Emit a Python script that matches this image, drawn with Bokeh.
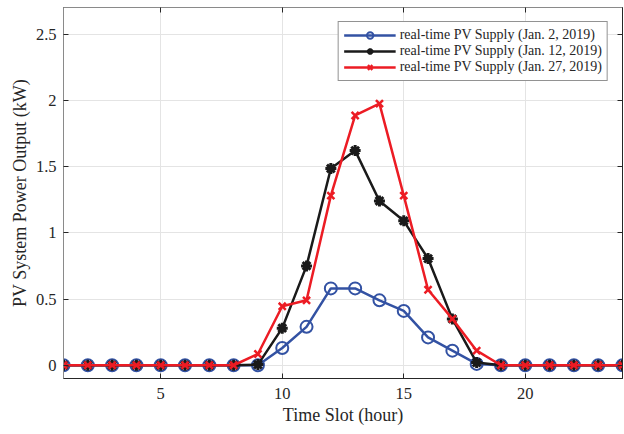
from bokeh.plotting import figure
from bokeh.models import Range1d, FixedTicker, CustomJSTickFormatter, LinearAxis
from bokeh.embed import file_html
from bokeh.resources import INLINE

hours = [1, 2, 3, 4, 5, 6, 7, 8, 9, 10, 11, 12, 13, 14, 15, 16, 17, 18, 19, 20, 21, 22, 23, 24]
jan2 = [0, 0, 0, 0, 0, 0, 0, 0, 0, 0.13, 0.29, 0.58, 0.58, 0.49, 0.41, 0.21, 0.11, 0.01, 0, 0, 0, 0, 0, 0]
jan12 = [0, 0, 0, 0, 0, 0, 0, 0, 0.005, 0.28, 0.75, 1.485, 1.62, 1.24, 1.09, 0.805, 0.35, 0.02, 0, 0, 0, 0, 0, 0]
jan27 = [0, 0, 0, 0, 0, 0, 0, 0, 0.085, 0.445, 0.49, 1.28, 1.885, 1.975, 1.28, 0.57, 0.35, 0.11, 0, 0, 0, 0, 0, 0]
x_ticks = [5, 10, 15, 20]
y_ticks = [0, 0.5, 1, 1.5, 2, 2.5]
labels = ["real-time PV Supply (Jan. 2, 2019)",
          "real-time PV Supply (Jan. 12, 2019)",
          "real-time PV Supply (Jan. 27, 2019)"]

FONT = "Liberation Serif"
AX = "#262626"
GRAYAX = "#8a8a8a"

p = figure(width=624, height=434, x_range=Range1d(1, 24), y_range=Range1d(-0.1, 2.7),
           output_backend="svg", toolbar_location=None,
           min_border_left=63, min_border_right=2, min_border_top=7, min_border_bottom=56)

p.outline_line_color = AX
p.outline_line_width = 1
p.background_fill_color = "white"
p.border_fill_color = "white"

for ax in (p.xaxis[0], p.yaxis[0]):
    ax.axis_line_color = AX
    ax.major_tick_line_color = AX
    ax.major_tick_in = 5
    ax.major_tick_out = 0
    ax.minor_tick_line_color = None
    ax.major_label_text_font = FONT
    ax.major_label_text_font_size = "16.5px"
    ax.major_label_text_color = AX
    ax.axis_label_text_font = FONT
    ax.axis_label_text_font_size = "18px"
    ax.axis_label_text_font_style = "normal"
    ax.axis_label_text_color = AX

p.yaxis.axis_line_color = GRAYAX
p.xaxis.ticker = FixedTicker(ticks=x_ticks)
p.yaxis.ticker = FixedTicker(ticks=y_ticks)
p.yaxis.formatter = CustomJSTickFormatter(code="return String(Number(tick.toFixed(2)));")
p.xaxis.axis_label = "Time Slot (hour)"
p.yaxis.axis_label = "PV System Power Output (kW)"
p.xaxis.major_label_standoff = 9
p.yaxis.major_label_standoff = 7
p.xaxis.axis_label_standoff = 3
p.yaxis.axis_label_standoff = 3

# box-style inward ticks on the top and right edges (no labels)
blank = CustomJSTickFormatter(code="return '';")
right_ax = LinearAxis(ticker=FixedTicker(ticks=y_ticks), formatter=blank,
                      major_tick_in=5, major_tick_out=0, minor_tick_line_color=None,
                      major_label_text_font_size="0px", major_label_standoff=0,
                      axis_line_color=AX, major_tick_line_color=AX)
top_ax = LinearAxis(ticker=FixedTicker(ticks=x_ticks), formatter=blank,
                    major_tick_in=5, major_tick_out=0, minor_tick_line_color=None,
                    major_label_text_font_size="0px", major_label_standoff=0,
                    axis_line_color=GRAYAX, major_tick_line_color=AX)
p.add_layout(right_ax, "right")
p.add_layout(top_ax, "above")

p.xgrid.grid_line_color = "#e4e4e4"
p.ygrid.grid_line_color = "#e4e4e4"

blue = "#3352a3"
black = "#1a1a1a"
red = "#ec1c24"

p.line(hours, jan2, line_color=blue, line_width=2.5, legend_label=labels[0])
p.scatter(hours, jan2, marker="circle", size=12, line_color=blue, fill_color=None,
          line_width=2, legend_label=labels[0])

p.line(hours, jan12, line_color=black, line_width=2.5, legend_label=labels[1])
p.scatter(hours, jan12, marker="asterisk", size=11, line_color=black,
          line_width=3, legend_label=labels[1])

p.line(hours, jan27, line_color=red, line_width=2.5, legend_label=labels[2])
p.scatter(hours, jan27, marker="x", size=10, line_color=red,
          line_width=2.5, legend_label=labels[2])

lg = p.legend[0]
lg.location = "top_right"
lg.margin = 14
lg.padding = 5
lg.spacing = 0
lg.glyph_width = 52
lg.glyph_height = 16
lg.label_height = 16
lg.label_standoff = 4
lg.label_text_font = FONT
lg.label_text_font_size = "14px"
lg.label_text_color = AX
lg.border_line_color = AX
lg.border_line_width = 1
lg.background_fill_color = "white"
lg.background_fill_alpha = 1.0

open("out.html", "w").write(file_html(p, INLINE))
